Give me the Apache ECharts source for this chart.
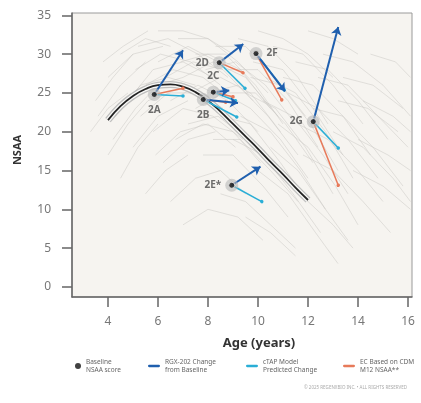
<!DOCTYPE html>
<html>
<head>
<meta charset="utf-8">
<script src="https://cdn.jsdelivr.net/npm/echarts@6/dist/echarts.min.js"></script>
<style>
html,body{margin:0;padding:0;background:#fff;}
#chart{width:421px;height:403px;}
</style>
</head>
<body>
<div id="chart"></div>
<script>
// ---- data ----
const xTicks = [4, 6, 8, 10, 12, 14, 16];
const yTicks = [0, 5, 10, 15, 20, 25, 30, 35];

const pointNames   = ['2A', '2B', '2C', '2D', '2E*', '2F', '2G'];
const baselineAge  = [5.85, 7.81, 8.21, 8.45, 8.95, 9.92, 12.21];
const baselineNSAA = [24.8, 24.15, 25.1, 28.9, 13.1, 30.07, 21.3];
const rgxAge       = [7.0, 9.2, 8.85, 9.41, 10.1, 11.08, 13.21];
const rgxNSAA      = [30.5, 23.7, 25.3, 31.3, 15.5, 25.2, 33.5];
const ctapAge      = [7.0, 9.15, 9.1, 9.48, 10.15, 11.05, 13.21];
const ctapNSAA     = [24.6, 21.9, 24.0, 25.6, 11.0, 25.4, 17.9];
const ecAge        = [7.0, 8.7, 9.0, 9.4, null, 10.95, 13.21];
const ecNSAA       = [25.6, 23.8, 24.5, 27.6, null, 24.1, 13.1];

const curveAge  = [4, 4.5, 5, 5.5, 6, 6.5, 7, 7.5, 8, 8.5, 9, 9.5, 10, 10.5, 11, 11.5, 12];
const curveNSAA = [21.5, 23.3, 24.6, 25.5, 26.0, 26.1, 25.8, 25.1, 24.0, 22.6, 21.0, 19.4, 17.8, 16.1, 14.5, 12.8, 11.2];

const trajectories = [
  [[3.6,22],[4.5,26],[5.5,29]],
  [[4.0,27],[5.0,30],[6.2,31]],
  [[4.2,19],[5.1,23],[6.0,26],[7.0,27]],
  [[4.5,30],[5.5,32],[6.5,31]],
  [[4.8,24],[5.8,28],[7.0,29],[8.2,27]],
  [[5.0,18],[6.0,22],[7.2,24]],
  [[5.2,31],[6.4,32],[7.6,30],[8.8,27]],
  [[5.5,26],[6.6,28],[7.8,27],[9.0,24]],
  [[5.8,20],[7.0,23],[8.2,22],[9.4,19]],
  [[6.0,29],[7.2,31],[8.4,29],[9.6,25]],
  [[6.2,16],[7.2,19],[8.3,20]],
  [[6.5,24],[7.6,26],[8.8,24],[10.0,20]],
  [[6.8,32],[8.0,32],[9.2,29],[10.4,25]],
  [[7.0,27],[8.2,29],[9.5,27],[10.8,22]],
  [[7.2,21],[8.4,22],[9.6,19],[10.8,15]],
  [[7.5,30],[8.7,30],[9.9,26],[11.0,21]],
  [[7.8,17],[9.0,17],[10.2,13],[11.2,9]],
  [[8.0,25],[9.2,26],[10.4,22],[11.6,17]],
  [[8.3,31],[9.5,31],[10.7,27],[11.9,22]],
  [[8.5,22],[9.7,21],[10.9,16],[12.0,11]],
  [[8.8,28],[10.0,28],[11.2,24],[12.4,18]],
  [[9.0,19],[10.2,17],[11.4,12],[12.5,7]],
  [[9.2,32],[10.4,31],[11.6,27],[12.8,21]],
  [[9.5,25],[10.7,23],[11.9,18],[13.0,12]],
  [[9.8,29],[11.0,28],[12.2,23],[13.4,17]],
  [[10.0,15],[11.2,12],[12.3,7],[13.2,3]],
  [[10.3,27],[11.5,25],[12.7,20],[13.8,14]],
  [[10.6,31],[11.8,30],[13.0,26],[14.2,21]],
  [[10.8,21],[12.0,18],[13.1,13],[14.0,8]],
  [[11.2,25],[12.4,23],[13.6,19],[14.8,14]],
  [[11.5,29],[12.8,28],[14.0,24],[15.2,19]],
  [[11.8,17],[13.0,15],[14.2,11],[15.3,7]],
  [[12.2,23],[13.4,22],[14.6,18],[15.8,13]],
  [[12.6,30],[13.8,29],[15.0,26],[16.1,22]],
  [[13.0,20],[14.2,18],[15.4,14],[16.1,11]],
  [[13.4,27],[14.6,26],[15.8,23]],
  [[13.8,15],[15.0,13],[16.1,10]],
  [[14.2,24],[15.4,22],[16.1,20]],
  [[14.5,30],[15.5,29],[16.1,27]],
  [[6.5,11],[7.5,14],[8.5,15],[9.5,12]],
  [[7.0,8],[8.0,10],[9.2,9],[10.2,6]],
  [[5.5,12],[6.3,15],[7.2,17]],
  [[4.5,14],[5.2,18],[6.0,21]],
  [[8.5,12],[9.5,11],[10.5,8],[11.5,5]],
  [[3.5,24],[4.2,27],[5.0,30]],
  [[3.3,20],[4.0,23],[4.8,25]],
  [[9.5,9],[10.5,7],[11.5,4]],
  [[6.0,33],[7.0,33],[8.0,32],[9.0,30]],
  [[10.0,33],[11.0,32],[12.0,30],[13.0,27]],
  [[12.0,33],[13.0,32],[14.0,30]],
  [[11.0,14],[12.0,11],[13.0,8],[13.8,5]],
  [[7.5,23],[8.6,25],[9.7,23],[10.9,19],[12.0,14]],
  [[4.3,22],[5.3,26],[6.4,27],[7.5,26]],
  [[5.1,28],[6.1,30],[7.3,29],[8.5,26]],
  [[5.9,17],[6.9,20],[8.0,21],[9.1,18]],
  [[6.3,27],[7.4,29],[8.6,28],[9.8,24]],
  [[6.7,19],[7.8,21],[9.0,20],[10.1,16]],
  [[7.3,25],[8.5,27],[9.7,25],[10.9,20]],
  [[7.9,28],[9.1,29],[10.3,26],[11.5,21]],
  [[8.2,19],[9.3,19],[10.5,15],[11.6,11]],
  [[8.7,25],[9.9,25],[11.1,21],[12.2,16]],
  [[9.3,22],[10.5,20],[11.7,15],[12.7,10]],
  [[9.7,27],[10.9,26],[12.1,21],[13.2,15]],
  [[10.2,24],[11.4,22],[12.6,17],[13.6,12]],
  [[10.5,18],[11.6,15],[12.7,10],[13.6,6]],
  [[11.0,27],[12.2,26],[13.4,22],[14.5,17]],
  [[11.6,21],[12.8,19],[14.0,15],[15.0,11]],
  [[12.4,27],[13.6,26],[14.8,22],[16.0,18]],
  [[13.2,24],[14.4,23],[15.6,20]],
  [[14.0,19],[15.2,17],[16.1,15]],
  [[4.0,17],[4.8,21],[5.6,24],[6.5,25]],
  [[3.8,29],[4.6,31],[5.6,33]],
  [[5.3,22],[6.4,25],[7.5,25],[8.6,23]],
  [[6.9,29],[8.0,30],[9.3,28],[10.5,23]]
];

const seriesNames = ['Baseline NSAA score', 'RGX-202 Change from Baseline', 'cTAP Model Predicted Change', 'EC Based on CDM M12 NSAA**'];
const legendLabels = ['Baseline\nNSAA score', 'RGX-202 Change\nfrom Baseline', 'cTAP Model\nPredicted Change', 'EC Based on CDM\nM12 NSAA**'];

// ---- styles ----
const C_BLUE = '#1f5fae', C_CYAN = '#2aaed6', C_ORANGE = '#e77a5a';
const FONT = 'Noto Sans';
const labelPos = {'2A':'bottom','2B':'bottom','2C':'top','2D':'left','2E*':'left','2F':'right','2G':'left'};

function segs(ax, ay) {
  const out = [];
  for (let i = 0; i < pointNames.length; i++) {
    if (ax[i] == null) continue;
    out.push({coords: [[baselineAge[i], baselineNSAA[i]], [ax[i], ay[i]]]});
  }
  return out;
}
const curve = curveAge.map((a, i) => [a, curveNSAA[i]]);
const pts = pointNames.map((n, i) => ({name: n, value: [baselineAge[i], baselineNSAA[i]],
  label: {position: labelPos[n]}}));

const chart = echarts.init(document.getElementById('chart'), null, {renderer: 'canvas'});

const LINE_ICON = 'path://M1,0h10a1,1 0 0 1 0,2.4h-10a1,1 0 0 1 0,-2.4z';
function legendItem(left, idx, icon, color, w, h) {
  return {
    left: left, top: 358, orient: 'horizontal', selectedMode: false,
    itemWidth: w, itemHeight: h, padding: 0,
    data: [{name: seriesNames[idx], icon: icon, itemStyle: {color: color, borderWidth: 0}}],
    formatter: () => legendLabels[idx],
    textStyle: {fontFamily: FONT, fontSize: 6.5, lineHeight: 8, color: '#666'}
  };
}

chart.setOption({
  animation: false,
  backgroundColor: '#fff',
  grid: {left: 72, top: 13, right: 9, bottom: 106, show: true,
         backgroundColor: '#f6f4f0', borderColor: '#9a9a9a', borderWidth: 1},
  xAxis: {
    type: 'value', min: 2.56, max: 16.16,
    axisLine: {show: true, onZero: false, lineStyle: {color: '#666', width: 1.5}},
    axisTick: {show: true, customValues: xTicks, length: 10, lineStyle: {color: '#666', width: 1.5}},
    axisLabel: {customValues: xTicks, margin: 19, fontFamily: FONT, fontSize: 12, color: '#777'},
    splitLine: {show: false}
  },
  yAxis: {
    type: 'value', min: -1.3, max: 35.3,
    axisLine: {show: true, onZero: false, lineStyle: {color: '#666', width: 1.5}},
    axisTick: {show: true, customValues: yTicks, length: 10, lineStyle: {color: '#666', width: 1.5}},
    axisLabel: {customValues: yTicks, margin: 21, fontFamily: FONT, fontSize: 12, color: '#777'},
    splitLine: {show: false}
  },
  legend: [
    legendItem(75, 0, 'circle', '#111', 6, 6),
    legendItem(148, 1, LINE_ICON, C_BLUE, 12, 6),
    legendItem(246, 2, LINE_ICON, C_CYAN, 12, 6),
    legendItem(343, 3, LINE_ICON, C_ORANGE, 12, 6)
  ],
  graphic: [
    {type: 'text', x: 259, y: 343, style: {text: 'Age (years)',
      align: 'center', verticalAlign: 'middle', font: 'bold 13px "Noto Sans"', fill: '#333'}},
    {type: 'text', x: 18, y: 150, rotation: Math.PI / 2, style: {text: 'NSAA', align: 'center',
      verticalAlign: 'middle', font: 'bold 11px "Noto Sans"', fill: '#333'}},
    {type: 'text', x: 407, y: 388, style: {text: '\u00A9 2025 REGENXBIO INC. \u2022 ALL RIGHTS RESERVED',
      align: 'right', verticalAlign: 'middle', font: '4.5px "Noto Sans"', fill: '#aaa'}}
  ],
  series: [
    {type: 'lines', coordinateSystem: 'cartesian2d', polyline: true, silent: true, z: 1,
      lineStyle: {color: '#c9c7c3', width: 1, opacity: 0.5},
      data: trajectories.map(t => ({coords: t}))},
    {type: 'line', data: curve, smooth: true, showSymbol: false, z: 2, silent: true,
      lineStyle: {color: '#a8a8a8', width: 7, opacity: 0.7}},
    {type: 'line', data: curve, smooth: true, showSymbol: false, z: 2, silent: true,
      lineStyle: {color: '#f7f7f5', width: 4.5}},
    {type: 'line', data: curve, smooth: true, showSymbol: false, z: 3, silent: true,
      lineStyle: {color: '#222', width: 1.8}},
    {name: seriesNames[3], type: 'lines', coordinateSystem: 'cartesian2d', z: 4,
      symbol: ['none', 'circle'], symbolSize: [0, 3.5],
      lineStyle: {color: C_ORANGE, width: 1.5, opacity: 1}, itemStyle: {color: C_ORANGE},
      data: segs(ecAge, ecNSAA)},
    {name: seriesNames[2], type: 'lines', coordinateSystem: 'cartesian2d', z: 5,
      symbol: ['none', 'circle'], symbolSize: [0, 3.5],
      lineStyle: {color: C_CYAN, width: 1.5, opacity: 1}, itemStyle: {color: C_CYAN},
      data: segs(ctapAge, ctapNSAA)},
    {name: seriesNames[1], type: 'lines', coordinateSystem: 'cartesian2d', z: 6,
      symbol: ['none', 'arrow'], symbolSize: [0, 8],
      lineStyle: {color: C_BLUE, width: 2, opacity: 1}, itemStyle: {color: C_BLUE},
      data: segs(rgxAge, rgxNSAA)},
    {type: 'scatter', data: pts.map(p => ({value: p.value})), symbolSize: 13, z: 7, silent: true,
      itemStyle: {color: '#b9b9b9', opacity: 0.6}},
    {name: seriesNames[0], type: 'scatter', data: pts, symbolSize: 6, z: 8,
      itemStyle: {color: '#111', borderColor: '#eee', borderWidth: 1},
      label: {show: true, formatter: '{b}', distance: 7, fontFamily: FONT, fontSize: 10,
        fontWeight: 'bold', color: '#4a4a4a'}}
  ]
});
</script>
</body>
</html>
